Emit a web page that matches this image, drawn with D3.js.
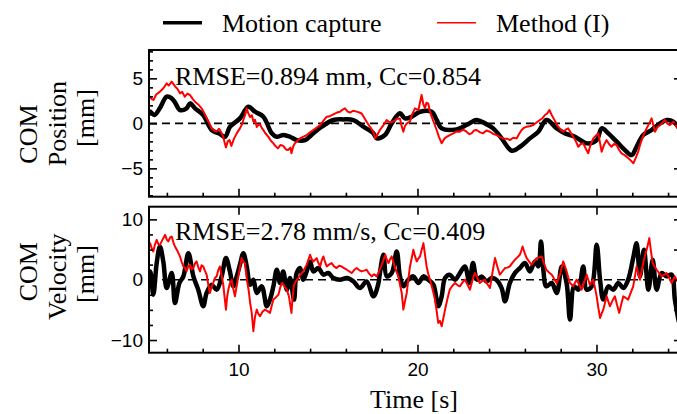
<!DOCTYPE html>
<html>
<head>
<meta charset="utf-8">
<script src="https://cdn.jsdelivr.net/npm/d3@7"></script>
<style>
  body { margin: 0; background: #fff; }
  svg { display: block; }
  .serif { font-family: 'Liberation Serif', 'Times New Roman', serif; font-size: 26px; fill: #000; }
  .tick text { font-family: 'Liberation Sans', Arial, sans-serif; font-size: 19px; fill: #000; }
  .tick line { stroke: #000; stroke-width: 1.6; }
</style>
</head>
<body>
<main></main>
<script>
// time [s], value pairs
const posMocap = [[4.9,1.3],[5.06,1.29],[5.3,0.92],[5.6,1.67],[5.99,2.96],[6.27,2.78],[6.46,2.3],[6.73,1.48],[7.1,1.67],[7.29,2.22],
  [7.57,1.67],[8.03,0.92],[8.5,-0.74],[8.97,-1.19],[9.25,-1.49],[9.53,-0.37],[10.08,0.55],[10.55,1.85],[10.92,1.29],[11.39,0.74],
  [11.86,-1.11],[12.13,-1.49],[12.5,-1.3],[12.88,-1.49],[13.25,-1.86],[13.72,-1.86],[14.18,-1.11],[14.65,-0.37],[15.3,0.37],[15.86,0.44],
  [16.42,0.37],[16.98,-0.37],[17.54,-1.11],[17.72,-1.67],[18.18,-1.3],[18.56,0],[19.02,1.11],[19.3,0.55],[19.68,0.74],[20.14,1.29],
  [20.79,1.29],[21.07,0.37],[21.35,-0.56],[22.18,-0.67],[22.74,-0.19],[23.3,0.37],[23.77,0],[24.23,-0.56],[24.7,-1.67],[25.26,-3.04],
  [25.73,-2.6],[26.28,-1.67],[26.75,-0.93],[27.21,0.37],[27.78,-0.56],[28.24,-1.11],[28.8,-1.49],[29.45,-2.22],[30.01,-1.86],[30.29,-0.56],
  [30.66,-1.11],[31.13,-2.04],[31.59,-2.97],[31.97,-3.52],[32.24,-2.6],[32.61,-1.3],[33.08,-0.74],[33.55,0],[33.92,0.37],[34.29,0.19],[34.6,-0.5]];

const posMethod = [[4.9,3.1],[5.06,2.96],[5.15,2.7],[5.25,2.6],[5.4,3.2],[5.6,3.5],[5.8,3.9],[5.99,4.44],[6.1,4.2],[6.27,4.63],[6.46,4.1],
  [6.6,3.8],[6.73,3.33],[6.85,3.5],[7.0,2.96],[7.15,3.3],[7.29,3.15],[7.45,2.7],[7.57,2.4],[7.75,2.1],[7.94,1.67],[8.1,1.1],[8.22,0.56],
  [8.35,0.1],[8.5,-0.56],[8.65,-0.8],[8.78,-0.93],[8.9,-0.6],[8.97,-0.75],[9.15,-1.49],[9.22,-2.1],[9.3,-2.67],[9.4,-2.0],[9.5,-1.86],
  [9.6,-2.5],[9.75,-1.7],[9.9,-1.11],[10.08,-0.56],[10.2,-0.1],[10.27,0.37],[10.38,1.0],[10.46,1.67],[10.55,1.1],[10.65,0.7],[10.75,0.9],
  [10.83,0.2],[10.92,0.4],[11.02,-0.4],[11.1,-0.2],[11.2,-0.1],[11.3,-0.5],[11.39,-0.75],[11.5,-1.1],[11.67,-1.5],[11.8,-1.9],[11.95,-2.22],
  [12.05,-2.5],[12.2,-2.78],[12.35,-2.4],[12.5,-2.5],[12.65,-2.9],[12.77,-2.96],[12.9,-2.7],[12.96,-3.33],[13.05,-2.6],[13.15,-2.22],
  [13.3,-1.9],[13.44,-1.67],[13.6,-1.5],[13.81,-1.3],[14.0,-1.0],[14.18,-0.74],[14.35,-0.5],[14.56,-0.2],[14.75,0.3],[14.93,0.74],
  [15.1,0.8],[15.3,1.0],[15.5,1.2],[15.67,1.29],[15.8,1.5],[15.95,1.67],[16.1,1.3],[16.23,1.2],[16.4,1.4],[16.6,1.3],[16.75,1.2],
  [16.88,1.1],[17.0,0.7],[17.16,0.18],[17.35,-0.4],[17.54,-0.93],[17.63,-1.67],[17.72,-1.4],[17.9,-0.74],[18.1,-0.2],[18.28,0.37],
  [18.45,0.1],[18.65,0.2],[18.85,0.5],[19.02,0.55],[19.1,-0.2],[19.21,-0.93],[19.3,-0.3],[19.4,0],[19.58,0.18],[19.7,1.0],[19.86,1.67],
  [20.05,1.48],[20.15,2.4],[20.23,3.15],[20.32,2.2],[20.42,1.67],[20.5,2.3],[20.6,2.2],[20.7,1.3],[20.79,0.74],[20.95,-0.1],[21.07,-0.74],
  [21.2,-1.5],[21.35,-2.22],[21.5,-1.7],[21.63,-1.49],[21.8,-1.3],[22.0,-1.11],[22.2,-0.9],[22.37,-0.93],[22.55,-0.7],[22.74,-0.93],
  [22.9,-1.2],[23.02,-1.11],[23.15,-0.8],[23.3,-0.74],[23.5,-1.0],[23.67,-1.11],[23.85,-0.8],[24.05,-0.93],[24.25,-1.2],[24.42,-1.3],
  [24.6,-1.5],[24.79,-1.67],[25.0,-1.7],[25.16,-1.86],[25.35,-1.6],[25.54,-1.67],[25.7,-1.1],[25.82,-0.74],[25.95,-0.5],[26.1,-0.37],
  [26.3,-0.3],[26.47,-0.19],[26.65,0.1],[26.84,0.37],[27.0,0.6],[27.12,0.93],[27.25,1.1],[27.37,1.48],[27.48,1.0],[27.6,0.55],
  [27.75,0.0],[27.86,-0.37],[28.0,-0.7],[28.14,-0.93],[28.28,-0.7],[28.42,-0.56],[28.55,-1.0],[28.7,-1.49],[28.85,-2.0],[28.98,-2.6],
  [29.12,-2.3],[29.26,-2.22],[29.4,-2.8],[29.54,-3.33],[29.65,-2.5],[29.82,-1.67],[29.95,-1.4],[30.1,-1.11],[30.2,-2.2],[30.29,-3.15],
  [30.42,-2.4],[30.56,-1.86],[30.7,-2.3],[30.84,-2.6],[30.98,-2.3],[31.12,-2.41],[31.25,-2.9],[31.4,-3.33],[31.55,-3.5],[31.68,-3.7],
  [31.85,-4.0],[31.95,-4.2],[32.06,-4.44],[32.2,-3.8],[32.33,-3.15],[32.42,-2.5],[32.52,-1.86],[32.65,-1.2],[32.8,-0.56],[32.95,0.0],
  [33.08,0.55],[33.18,-0.2],[33.27,-0.93],[33.4,-0.4],[33.55,-0.18],[33.7,0.1],[33.83,0.37],[33.95,0.0],[34.1,-0.19],[34.3,0.19],[34.45,-0.3],[34.6,-0.56]];

const velMocap = [[4.9,0.5],[5.06,1.37],[5.24,-2.48],[5.43,2.76],[5.61,5.5],[5.8,3.0],[5.99,-1.38],[6.27,1.1],[6.45,-3.86],[6.7,-0.55],
  [6.92,0.55],[7.2,4.4],[7.48,0.55],[7.75,-1.65],[8.03,-4.4],[8.22,-2.2],[8.5,-0.83],[8.78,-1.65],[9.06,0.55],[9.3,3.58],[9.52,1.37],
  [9.71,-1.1],[9.9,0.55],[10.08,2.48],[10.27,4.4],[10.46,2.2],[10.65,-0.83],[10.83,0],[11.02,-2.2],[11.3,-1.1],[11.58,-4.4],[11.76,-3.3],
  [11.95,-1.1],[12.14,1.65],[12.32,-0.55],[12.5,1.37],[12.7,-1.65],[12.88,0.28],[13.1,-3.3],[13.25,1.1],[13.44,1.93],[13.62,0],[13.81,1.37],
  [14.0,3.03],[14.18,1.37],[14.46,1.93],[14.74,0.83],[15.02,1.1],[15.3,0.28],[15.67,0],[16.05,0.28],[16.42,-0.28],[16.79,-1.38],[17.16,-0.28],
  [17.54,-2.76],[17.8,-0.83],[17.9,1.1],[18.1,4.13],[18.28,0.55],[18.56,1.1],[18.84,4.68],[19.02,0.55],[19.21,-1.1],[19.49,0],[19.77,0.55],
  [20.05,-0.55],[20.33,0.55],[20.6,0],[20.89,-0.83],[21.16,-4.4],[21.35,-2.76],[21.54,0.28],[21.8,0.83],[22.1,0],[22.37,1.1],[22.65,2.2],
  [22.9,-0.55],[23.1,2.76],[23.33,0],[23.58,0.55],[23.86,-0.28],[24.14,0.28],[24.4,0],[24.7,-1.38],[24.89,-3.58],[25.16,-0.55],[25.44,1.1],
  [25.72,1.93],[26.0,2.76],[26.28,1.37],[26.56,3.03],[26.75,2.2],[26.9,6.34],[27.03,1.65],[27.2,-1.1],[27.5,-0.55],[27.78,-2.2],[28.06,2.2],
  [28.33,-0.55],[28.52,-6.6],[28.75,-1.1],[28.98,-1.65],[29.26,2.2],[29.45,-1.65],[29.73,-1.1],[30.01,5.78],[30.2,0],[30.38,-3.3],[30.66,-1.1],
  [30.94,-1.65],[31.22,-0.55],[31.5,-1.38],[31.77,0],[32.05,3.58],[32.24,6.06],[32.43,0.55],[32.65,4.96],[32.9,-1.65],[33.14,3.3],[33.36,-1.65],
  [33.64,1.1],[33.92,0.55],[34.2,0.83],[34.38,-3.3],[34.6,-7.0]];

const velMethod = [[4.9,5.5],[5.06,6.06],[5.15,5.2],[5.24,4.68],[5.33,5.8],[5.43,6.6],[5.52,5.9],[5.61,5.78],[5.75,6.6],[5.9,7.44],[6.0,6.6],
  [6.08,6.34],[6.18,7.0],[6.27,7.16],[6.36,6.2],[6.45,5.5],[6.6,4.7],[6.73,3.86],[6.82,3.0],[6.92,2.2],[7.0,2.0],[7.1,1.38],[7.2,2.3],
  [7.29,2.48],[7.38,1.7],[7.48,1.93],[7.57,2.7],[7.66,3.03],[7.75,2.1],[7.85,1.38],[7.94,2.4],[8.03,2.2],[8.12,1.5],[8.22,0.83],[8.3,-0.6],
  [8.4,-2.2],[8.5,-1.2],[8.59,-0.55],[8.68,0.3],[8.78,0.55],[8.87,1.6],[8.96,2.2],[9.05,0.8],[9.15,-0.83],[9.22,-2.8],[9.3,-4.96],[9.36,-3.0],
  [9.43,-1.65],[9.52,-0.6],[9.62,0],[9.7,-1.4],[9.8,-2.76],[9.9,-1.0],[9.99,0.55],[10.08,2.0],[10.17,3.58],[10.27,3.0],[10.36,2.76],
  [10.43,1.0],[10.5,-0.55],[10.58,-2.0],[10.65,-3.86],[10.74,-5.5],[10.83,-8.54],[10.92,-6.2],[11.02,-4.96],[11.1,-5.6],[11.2,-6.06],
  [11.34,-5.3],[11.48,-4.96],[11.62,-5.2],[11.76,-5.5],[11.85,-4.4],[11.95,-3.3],[12.1,-2.9],[12.23,-2.48],[12.32,-1.4],[12.42,-0.55],
  [12.55,-1.0],[12.7,-1.65],[12.82,-2.8],[12.96,-5.5],[13.02,-3.0],[13.1,-0.83],[13.22,-0.2],[13.34,0.28],[13.48,0.9],[13.62,1.38],
  [13.72,2.0],[13.81,2.48],[13.9,3.3],[14.0,4.13],[14.09,3.4],[14.18,3.03],[14.28,3.3],[14.37,3.58],[14.46,2.8],[14.56,2.2],[14.65,3.2],
  [14.74,3.86],[14.84,2.9],[14.93,2.2],[15.06,2.5],[15.2,2.76],[15.34,2.2],[15.48,1.93],[15.62,2.3],[15.76,2.2],[15.9,1.9],[16.05,1.65],
  [16.18,1.4],[16.32,1.1],[16.46,1.6],[16.6,1.93],[16.74,1.6],[16.88,1.38],[17.02,1.5],[17.16,1.65],[17.3,1.0],[17.44,0.55],[17.58,0.9],
  [17.72,0.55],[17.86,1.4],[18.0,2.48],[18.1,3.3],[18.2,4.13],[18.29,3.3],[18.38,2.76],[18.47,3.4],[18.56,3.86],[18.66,2.8],[18.75,1.93],
  [18.84,1.2],[18.93,0.55],[19.02,-0.8],[19.12,-2.2],[19.21,-4.96],[19.3,-3.6],[19.4,-2.2],[19.49,0.1],[19.58,2.2],[19.68,3.6],[19.77,4.96],
  [19.86,3.9],[19.96,3.03],[20.05,3.5],[20.14,3.86],[20.24,5.0],[20.33,6.06],[20.42,4.1],[20.51,2.2],[20.6,1.0],[20.7,0],[20.84,-1.6],
  [20.98,-3.3],[21.07,-5.2],[21.16,-7.16],[21.25,-6.8],[21.35,-7.71],[21.45,-6.3],[21.54,-4.96],[21.67,-3.2],[21.8,-1.65],[21.95,-1.0],
  [22.1,-0.55],[22.23,-0.9],[22.37,-1.1],[22.5,-0.5],[22.65,0],[22.79,-0.8],[22.93,-1.65],[23.06,-0.2],[23.2,1.1],[23.34,0.3],[23.48,-0.55],
  [23.62,-0.2],[23.76,0],[23.9,-0.7],[24.05,-1.38],[24.19,1.2],[24.33,3.58],[24.46,2.2],[24.6,0.83],[24.75,1.4],[24.89,1.93],[25.02,2.0],
  [25.16,2.2],[25.3,2.8],[25.44,3.3],[25.58,3.7],[25.72,4.13],[25.8,4.8],[25.87,5.5],[25.98,4.5],[26.1,3.58],[26.24,3.0],[26.37,2.48],
  [26.51,3.0],[26.65,3.58],[26.8,3.7],[26.94,3.86],[27.07,2.7],[27.2,1.65],[27.35,1.2],[27.5,0.83],[27.64,0.1],[27.78,-0.55],[27.87,0.1],
  [27.96,0.83],[28.05,2.0],[28.14,3.03],[28.24,2.2],[28.33,1.38],[28.42,0.4],[28.52,-0.55],[28.61,-0.8],[28.7,-1.1],[28.8,-0.5],[28.89,0],
  [29.03,-0.8],[29.17,-1.65],[29.31,-0.4],[29.45,0.83],[29.54,0.0],[29.63,-0.83],[29.72,-0.4],[29.82,0],[29.92,-1.4],[30.01,-2.76],
  [30.1,-4.6],[30.2,-6.34],[30.29,-5.6],[30.38,-4.96],[30.47,-3.9],[30.57,-2.76],[30.66,-3.6],[30.75,-4.41],[30.89,-3.5],[31.03,-2.76],
  [31.15,-4.2],[31.27,-5.5],[31.38,-4.1],[31.5,-2.76],[31.63,-3.0],[31.77,-3.3],[31.91,-2.2],[32.05,-1.1],[32.15,0.6],[32.24,2.2],
  [32.33,1.1],[32.43,0],[32.52,1.4],[32.61,2.76],[32.7,3.9],[32.8,4.96],[32.88,5.9],[32.95,6.89],[33.04,4.8],[33.14,2.76],[33.25,2.2],
  [33.36,1.65],[33.5,1.1],[33.64,0.55],[33.78,0.8],[33.92,1.1],[34.06,0.3],[34.2,-0.55],[34.29,0],[34.38,0.55],[34.5,-0.2],[34.6,-0.55]];

const xTicks = [10, 20, 30];
const posTicks = [-5, 0, 5];
const velTicks = [-10, 0, 10];
const legendLabels = ['Motion capture', 'Method (I)'];
const statLabels = ['RMSE=0.894 mm, Cc=0.854', 'RMSE=2.78 mm/s, Cc=0.409'];

const width = 677;
const height = 414;

const svg = d3
  .select('main')
  .append('svg')
  .attr('width', width)
  .attr('height', height);

// plot box runs a little past the right edge of the picture, like the original
const left = 149;
const right = 679;

const x = d3.scaleLinear().domain([5, 34.61]).range([left, right]);

const panels = [
  {
    top: 50, bottom: 196.7,
    y: d3.scaleLinear().domain([-8.15, 8.15]).range([196.7, 50]),
    major: posTicks,
    minor: d3.range(-8, 9, 1).filter(v => v % 5 != 0),
    rightTicks: [-5, 0, 5],
    topTicks: false,
    mocap: posMocap, method: posMethod,
    stat: statLabels[0],
    statY: 85,
    title: [['COM', 37.2, 134], ['Position', 65.5, 123.5], ['[mm]', 94.4, 118]]
  },
  {
    top: 206.7, bottom: 352.7,
    y: d3.scaleLinear().domain([-12.1, 12.1]).range([352.7, 206.7]),
    major: velTicks,
    minor: [-7.5, -5, -2.5, 2.5, 5, 7.5],
    rightTicks: [-10, -5, 0, 5, 10],
    topTicks: true,
    mocap: velMocap, method: velMethod,
    stat: statLabels[1],
    statY: 240,
    title: [['COM', 37.2, 271.7], ['Velocity', 65.5, 276.7], ['[mm]', 94.4, 274]]
  }
];

const line = y => d3.line()
  .x(d => x(d[0]))
  .y(d => y(d[1]));

panels.forEach((p, i) => {
  const g = svg.append('g');

  g.append('clipPath')
    .attr('id', 'clip' + i)
    .append('rect')
    .attr('x', left)
    .attr('y', p.top)
    .attr('width', right - left)
    .attr('height', p.bottom - p.top);

  const plot = g.append('g').attr('clip-path', `url(#clip${i})`);

  // zero line
  plot.append('line')
    .attr('x1', left)
    .attr('x2', right)
    .attr('y1', p.y(0))
    .attr('y2', p.y(0))
    .attr('stroke', '#000')
    .attr('stroke-width', 1.6)
    .attr('stroke-dasharray', '8,5');

  plot.append('path')
    .datum(p.mocap)
    .attr('d', line(p.y).curve(d3.curveCatmullRom)(p.mocap))
    .attr('fill', 'none')
    .attr('stroke', '#000')
    .attr('stroke-width', 4.5)
    .attr('stroke-linejoin', 'round');

  plot.append('path')
    .datum(p.method)
    .attr('d', line(p.y)(p.method))
    .attr('fill', 'none')
    .attr('stroke', '#ff0000')
    .attr('stroke-width', 2)
    .attr('stroke-linejoin', 'round');

  // x ticks, pointing inwards
  g.append('g')
    .attr('transform', `translate(0, ${p.bottom})`)
    .call(d3.axisBottom(x).tickValues(d3.range(6, 35, 2).filter(v => v % 10 != 0)).tickSize(-4).tickFormat(''))
    .call(a => a.select('.domain').remove());

  g.append('g')
    .attr('transform', `translate(0, ${p.bottom})`)
    .call(d3.axisBottom(x).tickValues(xTicks).tickSize(-8).tickPadding(10).tickFormat(i == 1 ? d3.format('d') : ''))
    .call(a => a.select('.domain').remove());

  if (p.topTicks) {
    g.append('g')
      .attr('transform', `translate(0, ${p.top})`)
      .call(d3.axisTop(x).tickValues(xTicks).tickSize(-8).tickFormat(''))
      .call(a => a.select('.domain').remove());
  }

  // y ticks
  g.append('g')
    .attr('transform', `translate(${left}, 0)`)
    .call(d3.axisLeft(p.y).tickValues(p.minor).tickSize(-4).tickFormat(''))
    .call(a => a.select('.domain').remove());

  g.append('g')
    .attr('transform', `translate(${left}, 0)`)
    .call(d3.axisLeft(p.y).tickValues(p.major).tickSize(-8).tickPadding(6))
    .call(a => a.select('.domain').remove());

  g.append('g')
    .attr('transform', `translate(${right}, 0)`)
    .call(d3.axisRight(p.y).tickValues(p.rightTicks).tickSize(-5).tickFormat(''))
    .call(a => a.select('.domain').remove());

  // frame
  g.append('rect')
    .attr('x', left)
    .attr('y', p.top)
    .attr('width', right - left)
    .attr('height', p.bottom - p.top)
    .attr('fill', 'none')
    .attr('stroke', '#000')
    .attr('stroke-width', 2);

  g.append('text')
    .attr('class', 'serif')
    .attr('x', 175)
    .attr('y', p.statY)
    .text(p.stat);

  p.title.forEach(t => {
    g.append('text')
      .attr('class', 'serif')
      .attr('text-anchor', 'middle')
      .attr('transform', `translate(${t[1]}, ${t[2]}) rotate(-90)`)
      .text(t[0]);
  });
});

svg.append('text')
  .attr('class', 'serif')
  .attr('x', (left + right) / 2)
  .attr('y', 408)
  .attr('text-anchor', 'middle')
  .text('Time [s]');

// legend
const legend = svg.append('g');
const legendX = [163, 437];
const legendColor = ['#000', '#ff0000'];
const legendStroke = [3.5, 1.6];

legendLabels.forEach((label, i) => {
  legend.append('line')
    .attr('x1', legendX[i])
    .attr('x2', legendX[i] + 39)
    .attr('y1', 22.7)
    .attr('y2', 22.7)
    .attr('stroke', legendColor[i])
    .attr('stroke-width', legendStroke[i]);

  legend.append('text')
    .attr('class', 'serif')
    .attr('x', legendX[i] + 59)
    .attr('y', 32)
    .text(label);
});
</script>
</body>
</html>
